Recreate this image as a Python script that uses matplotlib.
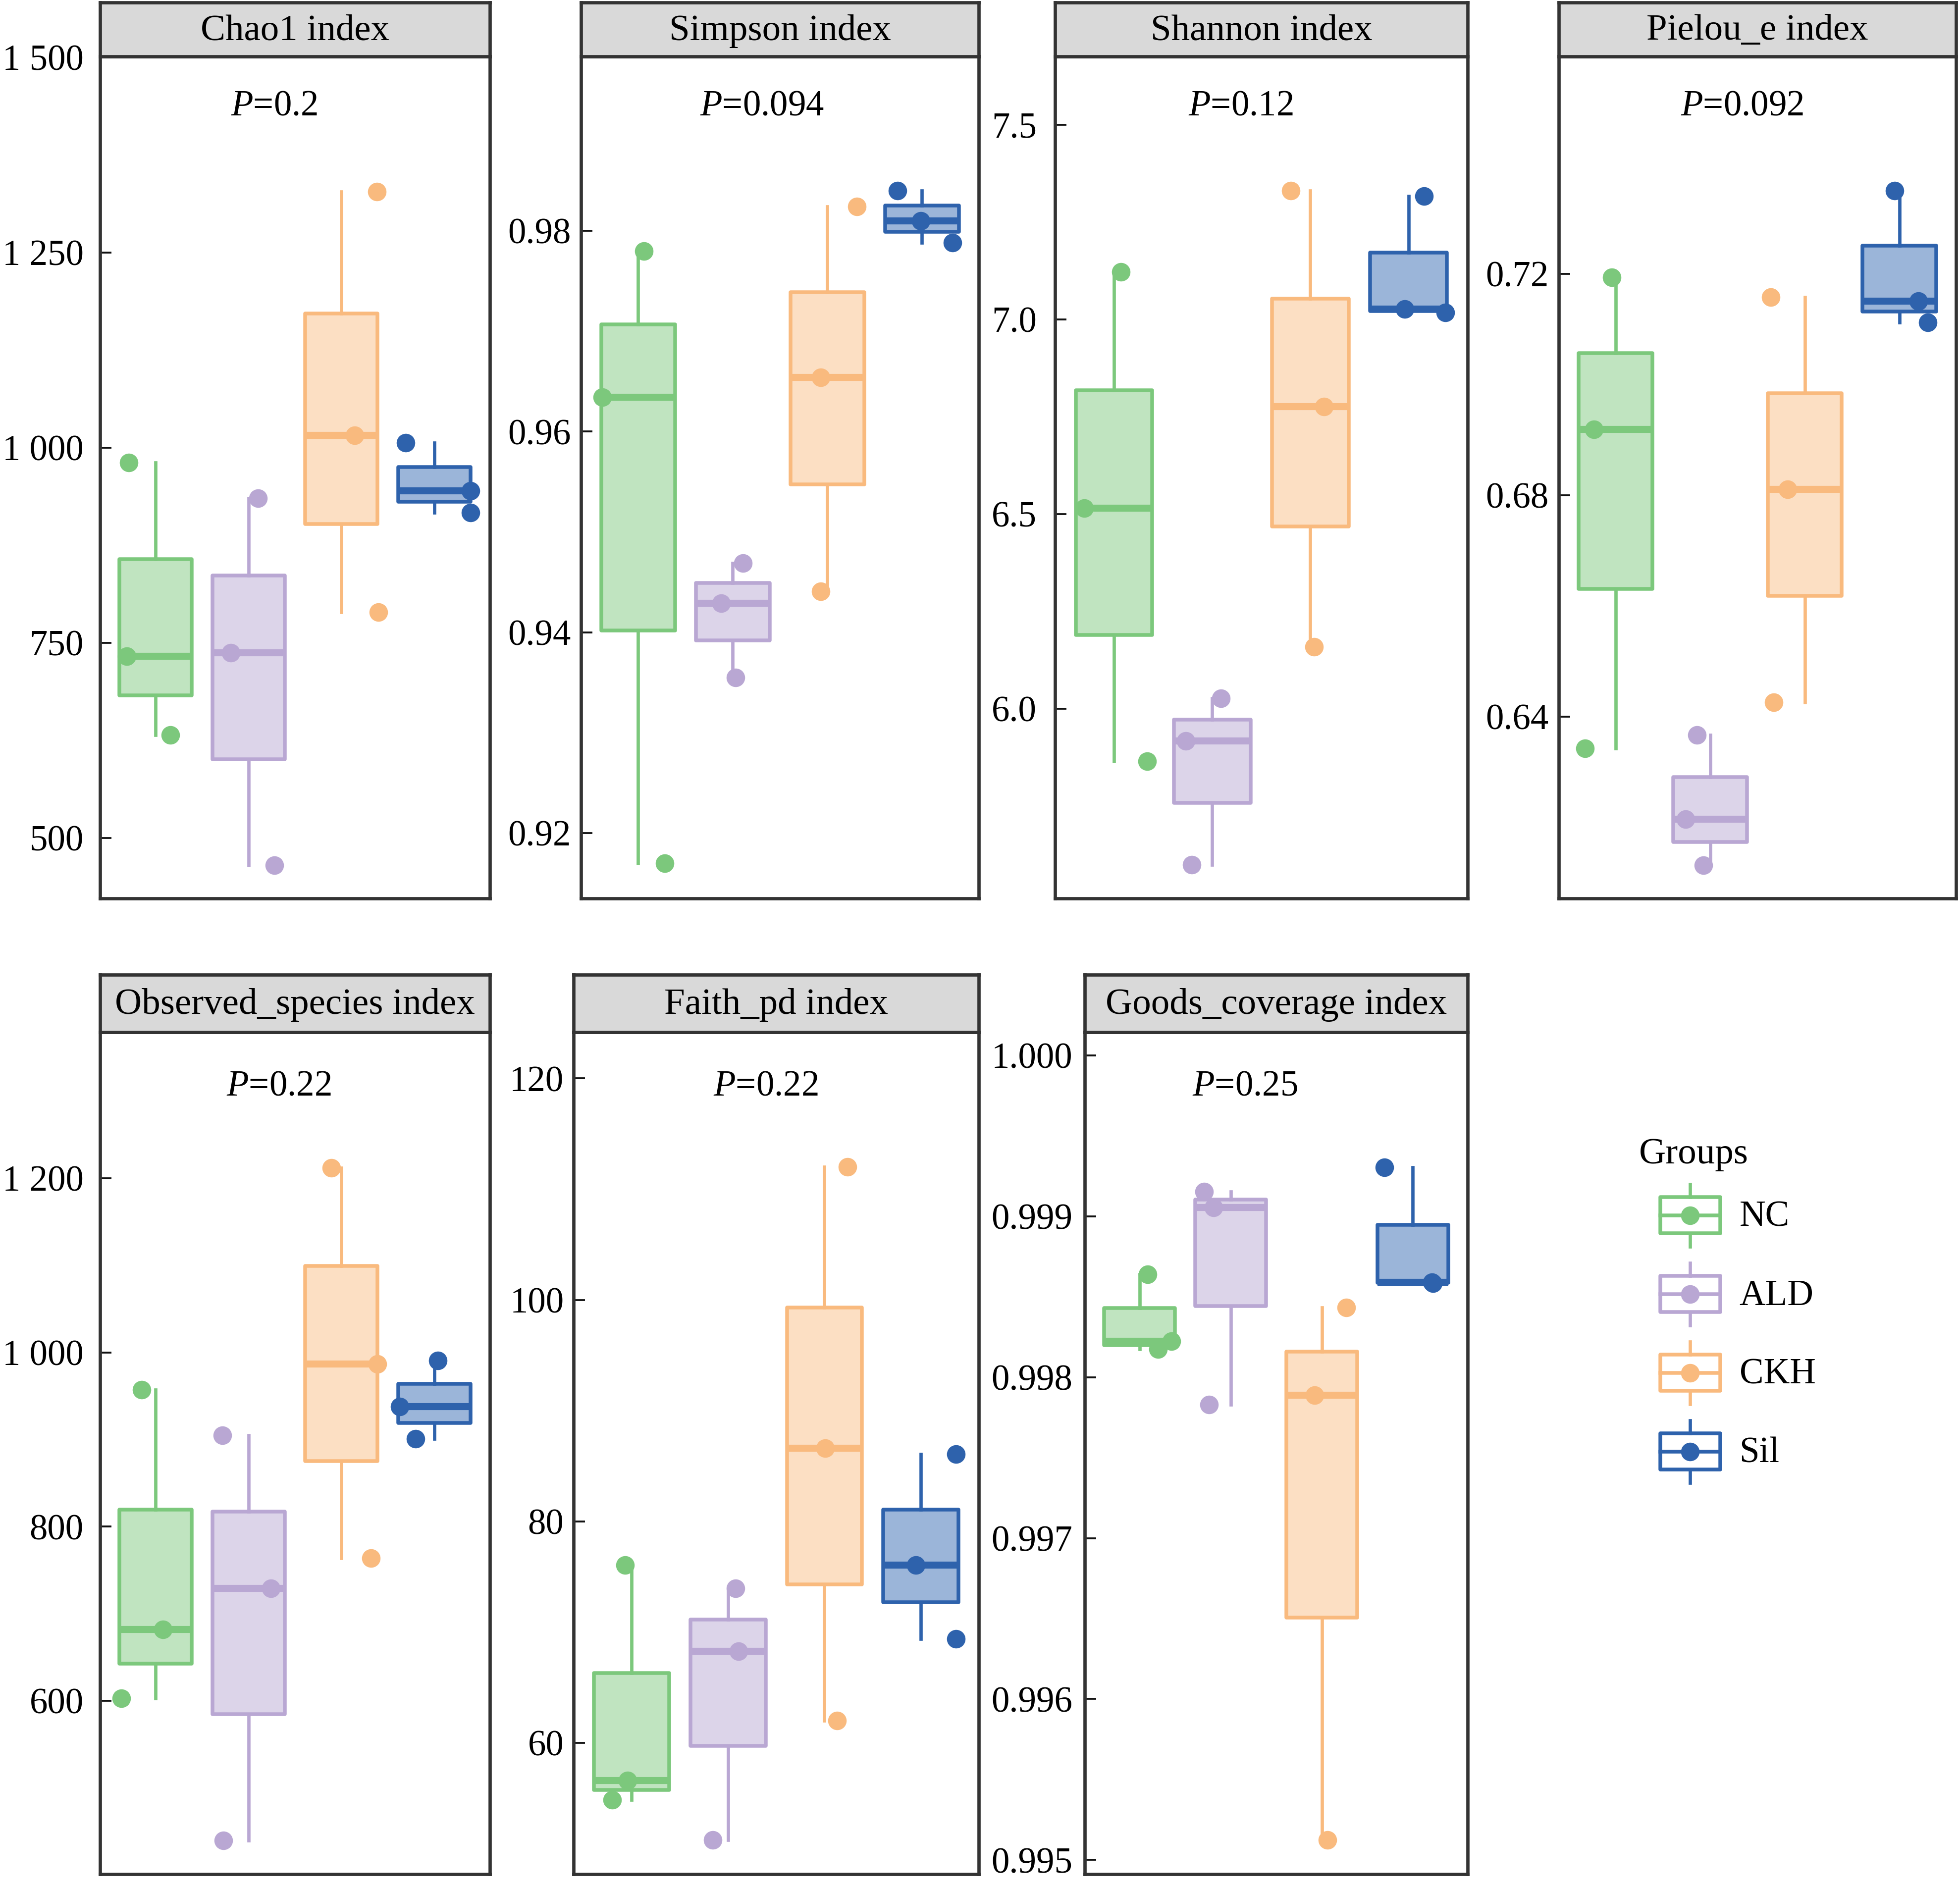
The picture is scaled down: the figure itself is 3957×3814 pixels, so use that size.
import matplotlib
matplotlib.use("Agg")
import matplotlib.pyplot as plt
from matplotlib.patches import Rectangle, Patch
from matplotlib.lines import Line2D
from matplotlib.legend_handler import HandlerBase
import numpy as np

plt.rcParams['font.family'] = ['Liberation Serif', 'DejaVu Serif']
plt.rcParams['mathtext.fontset'] = 'custom'
plt.rcParams['mathtext.rm'] = 'Liberation Serif'
plt.rcParams['mathtext.it'] = 'Liberation Serif:italic'

#--------------------------Data (3 samples per group: NC, ALD, CKH, Sil)
groups = ['NC', 'ALD', 'CKH', 'Sil']

chao1 = [[981, 733, 632], [935.5, 737, 465], [1328, 1016, 789], [1006, 944.5, 917]]
simpson = [[0.978, 0.9634, 0.917], [0.9469, 0.9429, 0.9355],
           [0.9824, 0.9654, 0.9441], [0.984, 0.981, 0.9788]]
shannon = [[7.122, 6.515, 5.865], [6.026, 5.917, 5.599],
           [7.331, 6.776, 6.159], [7.316, 7.027, 7.017]]
pielou = [[0.7194, 0.6919, 0.6343], [0.6367, 0.6215, 0.6132],
          [0.7158, 0.6811, 0.6426], [0.735, 0.7151, 0.7112]]
observed = [[957, 682, 603], [905, 729, 440], [1212, 986.6, 764], [990.6, 937.6, 901]]
faith = [[76.04, 56.6, 54.88], [73.98, 68.28, 51.23], [112.0, 86.6, 62.0], [86.07, 76.04, 69.38]]
goods = [[0.99864, 0.998222, 0.998174], [0.999153, 0.999055, 0.997829],
         [0.998432, 0.997887, 0.995124], [0.999302, 0.998589, 0.998582]]

titles = ['Chao1 index', 'Simpson index', 'Shannon index', 'Pielou_e index',
          'Observed_species index', 'Faith_pd index', 'Goods_coverage index']
p_values = ['0.2', '0.094', '0.12', '0.092', '0.22', '0.22', '0.25']

chao1_ticks = ['500', '750', '1 000', '1 250', '1 500']
simpson_ticks = ['0.92', '0.94', '0.96', '0.98']
shannon_ticks = ['6.0', '6.5', '7.0', '7.5']
pielou_ticks = ['0.64', '0.68', '0.72']
observed_ticks = ['600', '800', '1 000', '1 200']
faith_ticks = ['60', '80', '100', '120']
goods_ticks = ['0.995', '0.996', '0.997', '0.998', '0.999', '1.000']

#--------------------------Horizontal jitter of the points (positions only)
chao1_jit = [[-0.29, -0.31, 0.16], [0.10, -0.19, 0.28], [0.38, 0.14, 0.40], [-0.31, 0.39, 0.39]]
simpson_jit = [[0.06, -0.38, 0.28], [0.11, -0.12, 0.03], [0.31, -0.07, -0.07], [-0.26, -0.01, 0.32]]
shannon_jit = [[0.07, -0.30, 0.34], [0.09, -0.27, -0.21], [-0.20, 0.14, 0.04], [0.16, -0.04, 0.375]]
pielou_jit = [[-0.04, -0.23, -0.32], [-0.14, -0.26, -0.07], [-0.36, -0.18, -0.33], [-0.05, 0.20, 0.30]]
observed_jit = [[-0.15, 0.08, -0.37], [-0.28, 0.24, -0.27], [-0.11, 0.39, 0.32], [0.04, -0.37, -0.20]]
faith_jit = [[-0.07, -0.04, -0.20], [0.08, 0.11, -0.16], [0.24, 0.01, 0.13], [0.365, -0.05, 0.365]]
goods_jit = [[0.09, 0.35, 0.20], [-0.29, -0.19, -0.24], [0.27, -0.08, 0.06], [-0.31, 0.21, 0.22]]

#--------------------------Style / layout
edge_colors = ['#7CC87C', '#B9A7D3', '#F9BA7E', '#2E62AC']
fill_colors = ['#C0E4C0', '#DCD4E9', '#FCDFC3', '#9BB5D9']

ylims = [(422.8, 1501.5), (0.9135, 0.9974), (5.513, 7.676), (0.6072, 0.7593),
         (401.3, 1367.8), (48.17, 124.2), (0.994913, 1.000145)]
# [left, bottom, width, height] in figure fractions
rects = [[0.05102, 0.52447, 0.19898, 0.44577],
         [0.29656, 0.52447, 0.20281, 0.44577],
         [0.53827, 0.52447, 0.21046, 0.44577],
         [0.79528, 0.52447, 0.20281, 0.44577],
         [0.05102, 0.00794, 0.19898, 0.44577],
         [0.29273, 0.00794, 0.20663, 0.44577],
         [0.55357, 0.00794, 0.19515, 0.44577]]
strip_h = [0.02844] * 4 + [0.03042] * 3
p_x = [0.447, 0.455, 0.450, 0.461, 0.458, 0.474, 0.418]
p_y = [0.930] * 4 + [0.925] * 3
label_pad = [8, 4.9, 8.9, 4.9, 8, 4.8, 6]

FS = 17.5
STRIP_FS = 18
frame_col = '#333333'
BOX_LW, WHIS_LW, MED_LW, DOT_MS = 1.8, 1.6, 3.4, 9


class BoxKey(HandlerBase):
    # legend key: small box with whiskers, median line and a dot
    def create_artists(self, legend, orig_handle, xdescent, ydescent,
                       width, height, fontsize, trans):
        ec = orig_handle.get_edgecolor()
        gw = 1.66 * fontsize
        gh = 1.73 * fontsize
        bh = 1.0 * fontsize
        x0 = -xdescent + width - gw
        cx = x0 + gw / 2
        cy = -ydescent + height / 2
        box = Rectangle((x0, cy - bh / 2), gw, bh, facecolor='white',
                        edgecolor=ec, lw=BOX_LW, joinstyle='round', transform=trans)
        w1 = Line2D([cx, cx], [cy - gh / 2, cy - bh / 2], color=ec, lw=WHIS_LW, transform=trans)
        w2 = Line2D([cx, cx], [cy + bh / 2, cy + gh / 2], color=ec, lw=WHIS_LW, transform=trans)
        med = Line2D([x0, x0 + gw], [cy, cy], color=ec, lw=BOX_LW, transform=trans)
        dot = Line2D([cx], [cy], marker='o', ms=DOT_MS, color=ec, mec='none',
                     linestyle='none', transform=trans)
        return [box, w1, w2, med, dot]


def draw_panel(fig, k, vals, jit, tick_labels):
    l, b, w, h = rects[k]
    ax = fig.add_axes([l, b, w, h])
    pos = np.arange(1, len(groups) + 1)

    bp = ax.boxplot(vals, positions=pos, widths=0.78, whis=(0, 100),
                    patch_artist=True, showfliers=False, showcaps=False)
    for i in range(len(groups)):
        bp['boxes'][i].set(facecolor=fill_colors[i], edgecolor=edge_colors[i],
                           linewidth=BOX_LW, joinstyle='round')
        for wl in bp['whiskers'][2 * i:2 * i + 2]:
            wl.set(color=edge_colors[i], linewidth=WHIS_LW)
        bp['medians'][i].set(color=edge_colors[i], linewidth=MED_LW, solid_capstyle='butt')
        ax.plot(pos[i] + np.array(jit[i]), vals[i], 'o', color=edge_colors[i],
                ms=DOT_MS, mec='none', zorder=4)

    ax.set_xlim(0.4, 4.6)
    ax.set_ylim(*ylims[k])
    ax.set_xticks([])
    ax.set_yticks([float(t.replace(' ', '')) for t in tick_labels])
    ax.set_yticklabels(tick_labels)
    ax.tick_params(axis='y', direction='in', length=5.6, width=0.9, color='#111111',
                   labelsize=FS, pad=label_pad[k])
    for sp in ax.spines.values():
        sp.set_color(frame_col)
        sp.set_linewidth(1.6)
    ax.text(p_x[k], p_y[k], '$P$=' + p_values[k], transform=ax.transAxes,
            ha='center', va='baseline', fontsize=FS)

    sax = fig.add_axes([l, b + h, w, strip_h[k]])
    sax.set_facecolor('#D9D9D9')
    sax.set_xticks([])
    sax.set_yticks([])
    for sp in sax.spines.values():
        sp.set_color(frame_col)
        sp.set_linewidth(1.6)
    sax.text(0.5, 0.47, titles[k], transform=sax.transAxes, ha='center',
             va='center', fontsize=STRIP_FS)


#--------------------------Main
fig = plt.figure(figsize=(3957 / 300, 3814 / 300), dpi=300)

panel_data = [(chao1, chao1_jit, chao1_ticks),
              (simpson, simpson_jit, simpson_ticks),
              (shannon, shannon_jit, shannon_ticks),
              (pielou, pielou_jit, pielou_ticks),
              (observed, observed_jit, observed_ticks),
              (faith, faith_jit, faith_ticks),
              (goods, goods_jit, goods_ticks)]
for k, (vals, jit, ticks) in enumerate(panel_data):
    draw_panel(fig, k, vals, jit, ticks)

handles = [Patch(facecolor='white', edgecolor=c) for c in edge_colors]
fig.legend(handles, groups, title='Groups', loc='upper left',
           bbox_to_anchor=(0.8362, 0.3975), frameon=False, alignment='left',
           fontsize=FS, title_fontsize=18, handlelength=2.25, handleheight=2.61,
           handletextpad=0.53, labelspacing=0.24, borderpad=0, borderaxespad=0,
           handler_map={Patch: BoxKey()})

fig.savefig('out.png', dpi=300)
plt.close()
